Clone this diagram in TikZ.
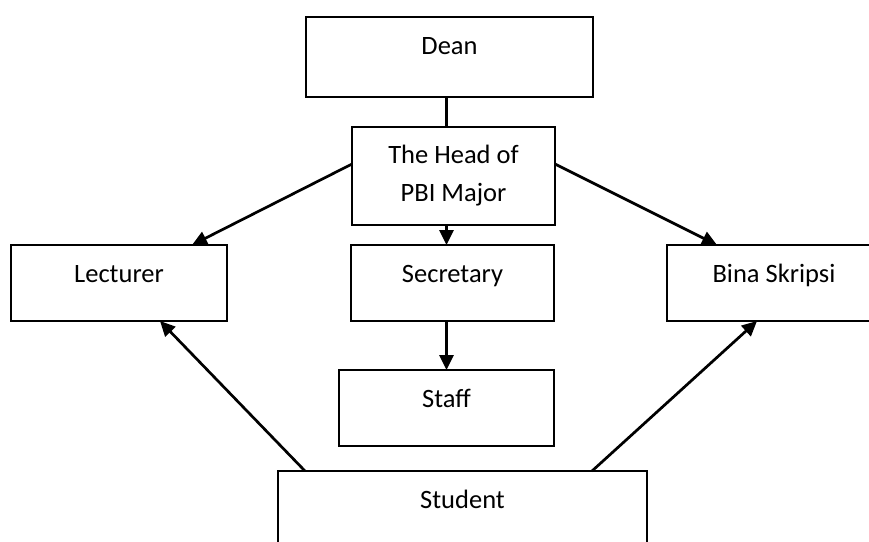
\documentclass[tikz,border=0pt]{standalone}
\usepackage{fontspec}
\setmainfont{Carlito}
\usetikzlibrary{arrows.meta}
\tikzset{
  orgbox/.style={draw=black, line width=1.5pt, fill=white, rectangle, inner sep=0pt, outer sep=0pt},
  lbl/.style={anchor=base, inner sep=0pt, font=\fontsize{26.5}{31}\selectfont},
  link/.style={line width=2.7pt},
  arrowlink/.style={line width=2.7pt, -{Triangle[length=15pt,width=14pt]}}
}
\begin{document}
\begin{tikzpicture}[x=1pt,y=1pt]
\fill[white] (0,0) rectangle (869,-541);
\clip (0,0) rectangle (869,-541);
% boxes
\node[orgbox, minimum width=287pt, minimum height=80pt] (dean) at (449.5,-57) {};
\node[orgbox, minimum width=203pt, minimum height=98pt] (head) at (453.5,-176) {};
\node[orgbox, minimum width=216pt, minimum height=76pt] (lect) at (119,-283) {};
\node[orgbox, minimum width=203pt, minimum height=76pt] (sec) at (452.5,-283) {};
\node[orgbox, minimum width=214pt, minimum height=76pt] (bina) at (774,-283) {};
\node[orgbox, minimum width=215pt, minimum height=76pt] (staff) at (446.5,-408) {};
\node[orgbox, minimum width=369pt, minimum height=90pt] (student) at (462.5,-516) {};
% labels
\node[lbl] (deanT) at (449.5,-54) {Dean};
\node[lbl] (headA) at (453.5,-163) {The Head of};
\node[lbl] (headB) at (453.5,-201) {PBI Major};
\node[lbl] (lectT) at (119,-282) {Lecturer};
\node[lbl] (secT) at (452.5,-282) {Secretary};
\node[lbl] (binaT) at (774,-282) {Bina Skripsi};
\node[lbl] (staffT) at (446.5,-407) {Staff};
\node[lbl] (studentT) at (462.5,-508) {Student};
% connectors
\draw[link] (dean.south -| staff.north) -- (head.north -| staff.north);
\draw[arrowlink] (head.south -| staff.north) -- (sec.north -| staff.north);
\draw[arrowlink] (sec.south -| staff.north) -- (staff.north);
\draw[arrowlink] ([yshift=12pt]head.west) -- ([xshift=-35pt]lect.north east);
\draw[arrowlink] ([yshift=12pt]head.east) -- ([xshift=50pt]bina.north west);
\draw[arrowlink] ([xshift=27pt]student.north west) -- ([xshift=41pt]lect.south);
\draw[arrowlink] ([xshift=-55pt]student.north east) -- ([xshift=90pt]bina.south west);
\end{tikzpicture}
\end{document}
